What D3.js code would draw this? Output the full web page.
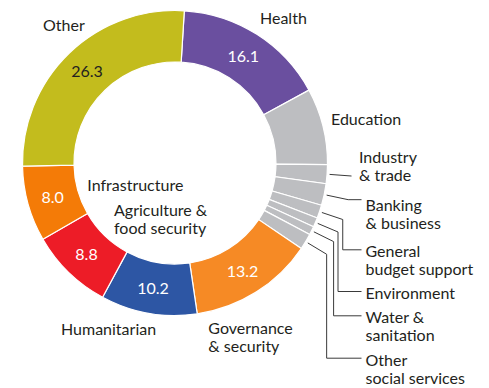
<!DOCTYPE html>
<html><head><meta charset="utf-8">
<script src="https://cdn.jsdelivr.net/npm/d3@7"></script>
<style>
body{margin:0;background:#fff}
svg{display:block}
text{font-family:Lato,'Liberation Sans',sans-serif;}
</style>
</head><body><svg id="chart" width="489" height="388"></svg>
<script>
// ---- data ----
const categories = ["Health","Education","Industry & trade","Banking & business","General budget support","Environment","Water & sanitation","Other social services","Governance & security","Humanitarian","Agriculture & food security","Infrastructure","Other"];
const values = [16.1, 8.1, 2.0, 2.3, 1.4, 1.0, 0.9, 1.7, 13.2, 10.2, 8.8, 8.0, 26.3];
const showValue = [true,false,false,false,false,false,false,false,true,true,true,true,true];
const labelLines = [["Health"],["Education"],["Industry","& trade"],["Banking","& business"],["General","budget support"],["Environment"],["Water &","sanitation"],["Other","social services"],["Governance","& security"],["Humanitarian"],["Agriculture &","food security"],["Infrastructure"],["Other"]];
const colors = ["#6a4f9f","#bdbec1","#bdbec1","#bdbec1","#bdbec1","#bdbec1","#bdbec1","#bdbec1","#f68a25","#2d56a4","#ed1c27","#f47b07","#c3bc1d"];
const valueColors = ["#fff","#fff","#fff","#fff","#fff","#fff","#fff","#fff","#fff","#fff","#fff","#fff","#231f20"];

// ---- layout ----
const cx = 175, cy = 163, rIn = 101, rOut = 152.5;
const startDeg = 3.5;
const labelPos = [[260,24],[331,125],[359,163],[365.5,211],[365.5,257.3],[365.5,299],[365.5,323.3],[365.5,365.7],[208.3,334],[61,334.7],[114,215.7],[87.3,191],[43,31]];
const leader = [false,false,true,true,true,true,true,true,false,false,false,false,false];
const lineH = 18, fontSize = 16;

const svg = d3.select("#chart");
const g = svg.append("g").attr("transform", `translate(${cx},${cy})`);

const a0 = startDeg * Math.PI / 180;
const pie = d3.pie().sort(null).value(d => d).startAngle(a0).endAngle(a0 + 2 * Math.PI);
const arcs = pie(values);
const arc = d3.arc().innerRadius(rIn).outerRadius(rOut);

g.selectAll("path.slice").data(arcs).join("path")
  .attr("class","slice")
  .attr("d", arc)
  .attr("fill", (d,i) => colors[i])
  .attr("stroke", "#fff")
  .attr("stroke-width", 1.2);

// value labels
const mid = d3.arc().innerRadius(127).outerRadius(127);
g.selectAll("text.val").data(arcs.filter((d,i)=>showValue[i])).join("text")
  .attr("class","val")
  .attr("x", d => mid.centroid(d)[0])
  .attr("y", d => mid.centroid(d)[1] + 6)
  .attr("text-anchor","middle")
  .attr("font-size", fontSize)
  .attr("fill", d => valueColors[d.index])
  .text(d => d.value.toFixed(1));

// leader lines
const polar = (a, r) => [cx + r * Math.sin(a), cy - r * Math.cos(a)];
arcs.forEach((d, i) => {
  if (!leader[i]) return;
  const m = (d.startAngle + d.endAngle) / 2;
  const s = polar(m, 155), e = polar(m, 177);
  const rows = labelLines[i].length;
  const hy = labelPos[i][1] - 7.5;
  let pts;
  if (Math.abs(e[1] - hy) < 4) {
    pts = [s, e, [labelPos[i][0] - 4, e[1]]];
  } else if (e[1] > hy) {
    pts = [s, e];
  } else {
    pts = [s, e, [e[0], hy], [labelPos[i][0] - 4, hy]];
  }
  svg.append("path").attr("d", d3.line()(pts))
    .attr("fill","none").attr("stroke","#3a3a3a").attr("stroke-width",1);
});

// category labels
categories.forEach((c, i) => {
  const t = svg.append("text")
    .attr("x", labelPos[i][0]).attr("y", labelPos[i][1])
    .attr("font-size", fontSize).attr("fill", "#231f20");
  labelLines[i].forEach((ln, k) => {
    t.append("tspan").attr("x", labelPos[i][0]).attr("y", labelPos[i][1] + k * lineH).text(ln);
  });
});
</script>
</body></html>
